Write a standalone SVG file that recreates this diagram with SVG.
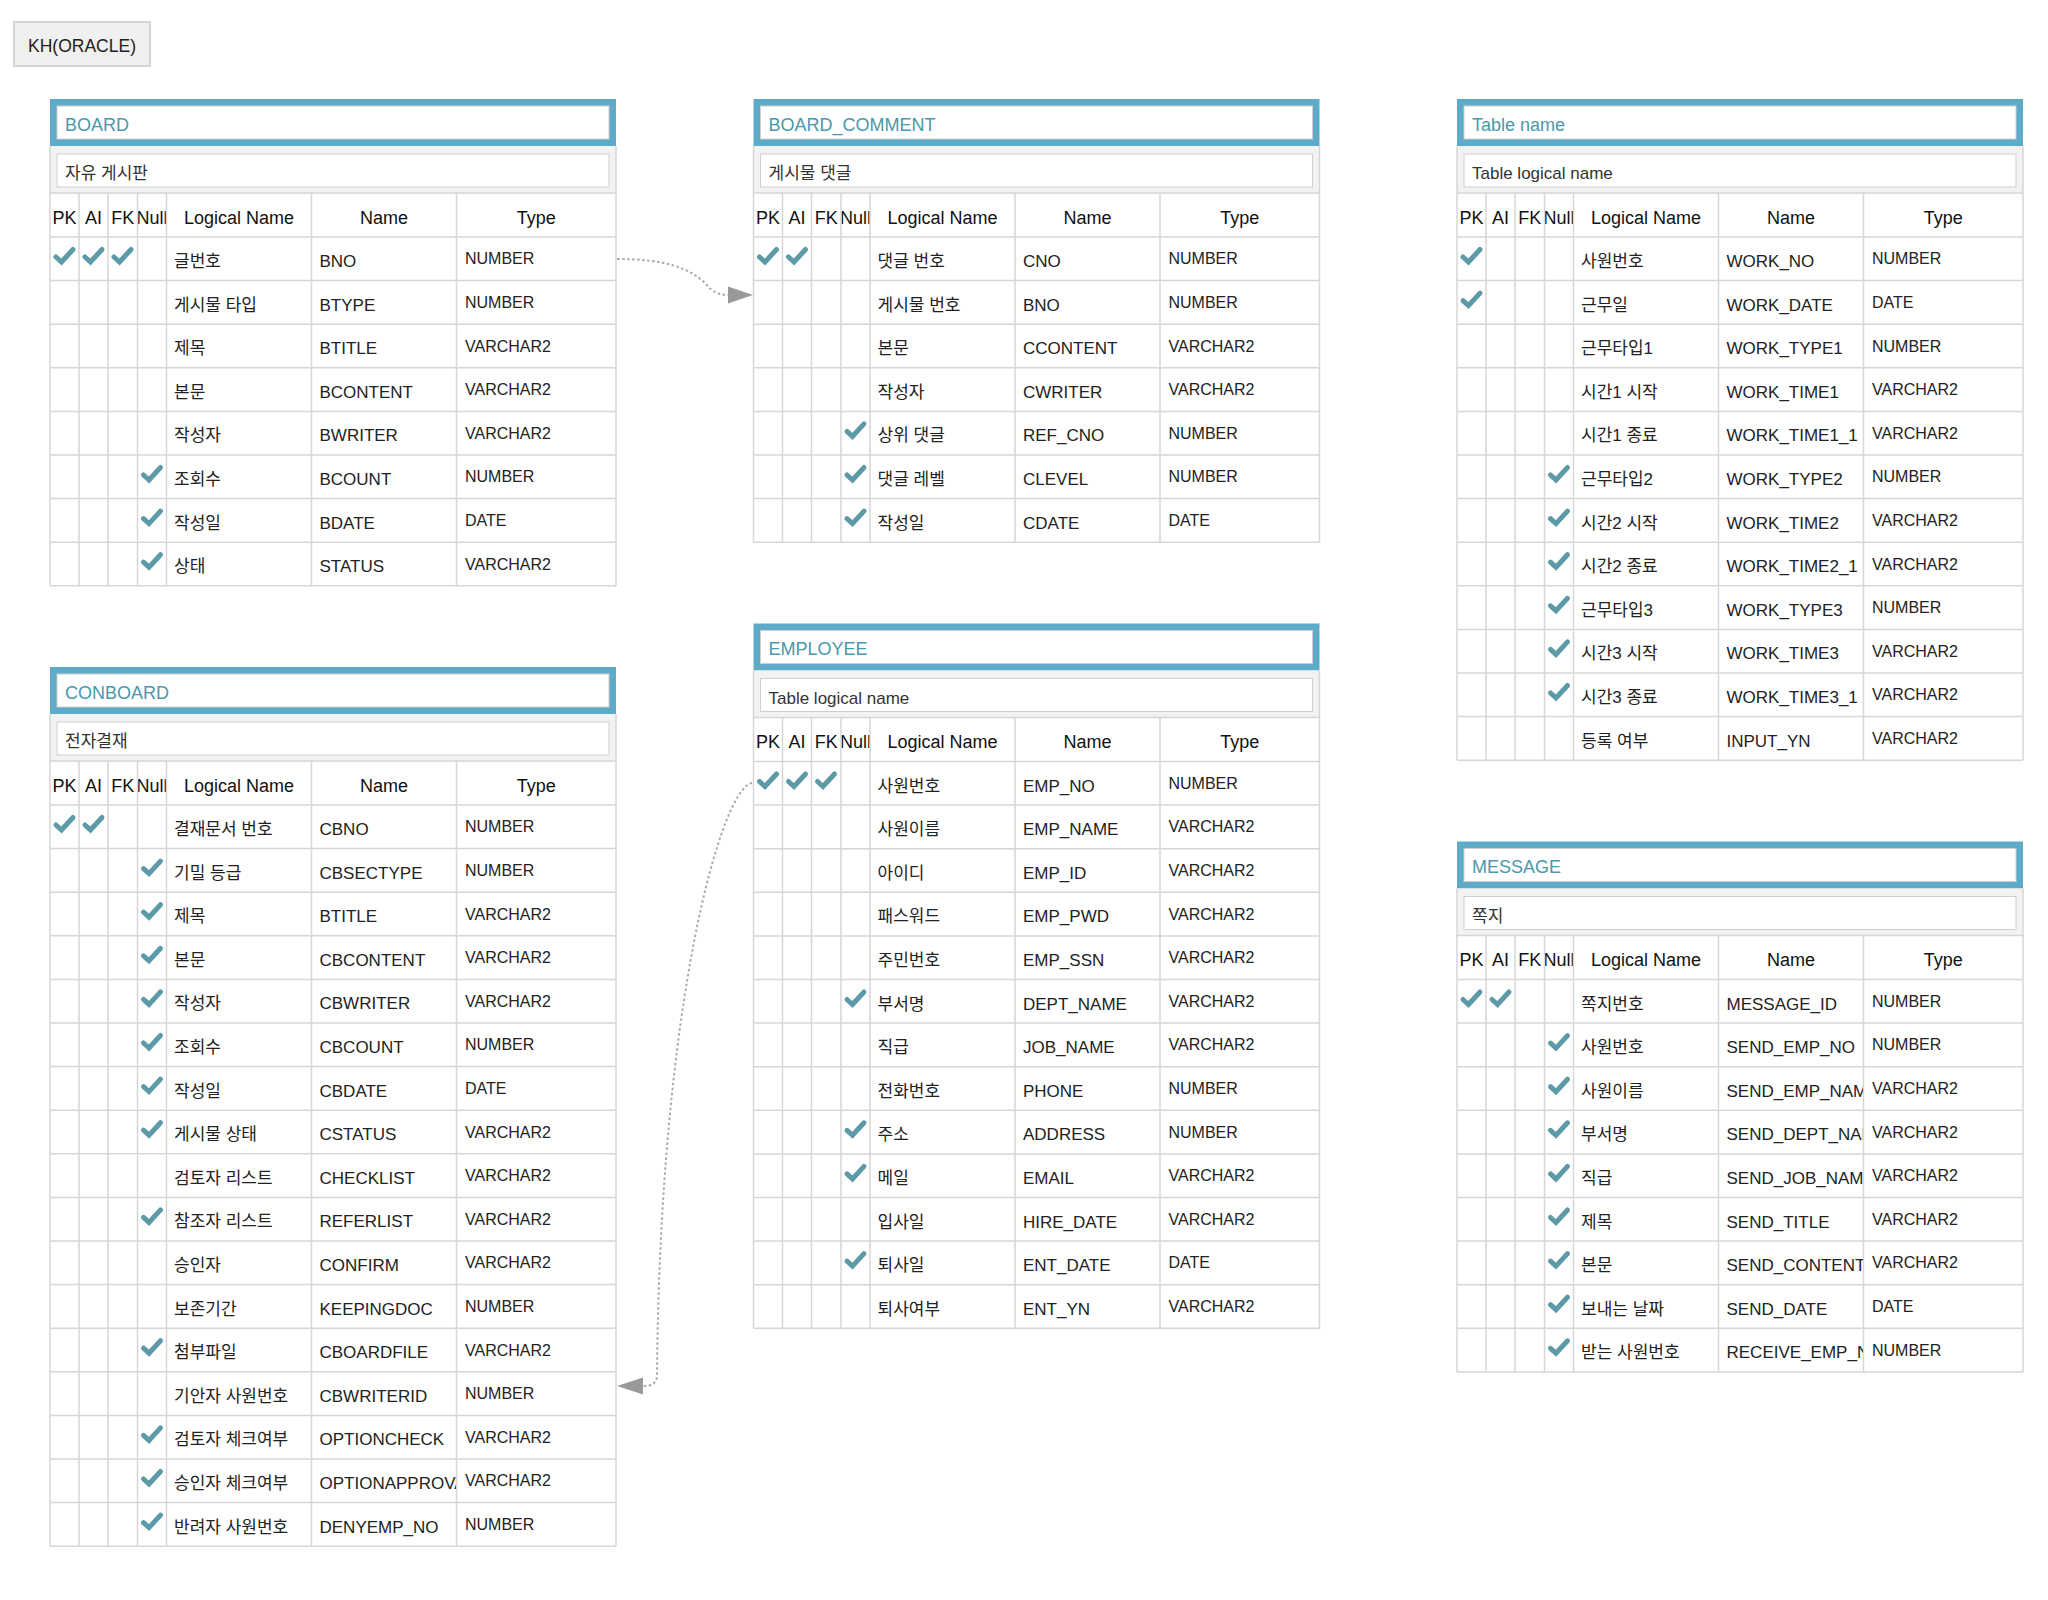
<svg xmlns="http://www.w3.org/2000/svg" xmlns:xlink="http://www.w3.org/1999/xlink" width="2048" height="1600" viewBox="0 0 2048 1600">
<style>
text{font-family:'Liberation Sans','Noto Sans CJK KR',sans-serif}
.ttl{font-size:18px;fill:#4a98ad}
.lg{font-size:17px;fill:#333}
.hd{font-size:18px;fill:#111;text-anchor:middle}
.ln{font-size:17px;fill:#222}
.nm{font-size:17px;fill:#222}
.tp{font-size:16px;fill:#222}
.grid{fill:none;stroke:#d6d6d6;stroke-width:1.5}
.blue{fill:#5eabc9}
.inner{fill:#fff;stroke:#cfcfcf;stroke-width:1}
.gray{fill:#f2f2f2}
.conn{fill:none;stroke:#aaa;stroke-width:2;stroke-dasharray:2.5 2.5}
.arr{fill:#999}
</style>
<defs>
<g id="ck"><polyline points="2.5,10.5 8,15.5 19.5,3" fill="none" stroke="#5c9aa7" stroke-width="5" stroke-linecap="round"/></g>
<clipPath id="cn" clipPathUnits="userSpaceOnUse"><rect x="262" y="0" width="144" height="900"/></clipPath>
<g id="head">
<rect class="blue" x="0" y="0" width="566" height="47"/>
<rect class="inner" x="7" y="7" width="552" height="33"/>
<rect class="gray" x="0" y="47" width="566" height="47"/>
<rect class="inner" x="7" y="55" width="552" height="33"/>
<text class="hd" x="14.5" y="124.5">PK</text>
<text class="hd" x="43.5" y="124.5">AI</text>
<text class="hd" x="72.75" y="124.5">FK</text>
<text class="hd" x="102" y="124.5">Null</text>
<text class="hd" x="189" y="124.5">Logical Name</text>
<text class="hd" x="334" y="124.5">Name</text>
<text class="hd" x="486.25" y="124.5">Type</text>
</g>
</defs>
<rect width="2048" height="1600" fill="#fff"/>

<g id="kh-oracle">
<rect x="14" y="22" width="136" height="44" fill="#f0f0f0" stroke="#d4d4d4" stroke-width="2"/>
<text x="82" y="52" font-size="17.5" fill="#222" text-anchor="middle">KH(ORACLE)</text>
</g>

<g id="board" transform="translate(50,99)">
<use href="#head"/>
<text class="ttl" x="15" y="31.5">BOARD</text>
<text class="lg" x="15" y="80">자유 게시판</text>
<path class="grid" d="M0,47V486.8M29,94V486.8M58,94V486.8M87.5,94V486.8M116.5,94V486.8M261.5,94V486.8M406.5,94V486.8M566,47V486.8M0,94H566M0,138H566M0,181.6H566M0,225.2H566M0,268.8H566M0,312.4H566M0,356H566M0,399.6H566M0,443.2H566M0,486.8H566"/>
<use href="#ck" x="3.5" y="147.5"/><use href="#ck" x="32.5" y="147.5"/><use href="#ck" x="61.5" y="147.5"/>
<use href="#ck" x="91" y="365.5"/><use href="#ck" x="91" y="409.1"/><use href="#ck" x="91" y="452.7"/>
<g class="ln">
<text x="124" y="168">글번호</text><text x="124" y="211.6">게시물 타입</text><text x="124" y="255.2">제목</text><text x="124" y="298.8">본문</text><text x="124" y="342.4">작성자</text><text x="124" y="386">조회수</text><text x="124" y="429.6">작성일</text><text x="124" y="473.2">상태</text>
</g>
<g class="nm">
<text x="269.5" y="168">BNO</text><text x="269.5" y="211.6">BTYPE</text><text x="269.5" y="255.2">BTITLE</text><text x="269.5" y="298.8">BCONTENT</text><text x="269.5" y="342.4">BWRITER</text><text x="269.5" y="386">BCOUNT</text><text x="269.5" y="429.6">BDATE</text><text x="269.5" y="473.2">STATUS</text>
</g>
<g class="tp">
<text x="415" y="165.3">NUMBER</text><text x="415" y="208.9">NUMBER</text><text x="415" y="252.5">VARCHAR2</text><text x="415" y="296.1">VARCHAR2</text><text x="415" y="339.7">VARCHAR2</text><text x="415" y="383.3">NUMBER</text><text x="415" y="426.9">DATE</text><text x="415" y="470.5">VARCHAR2</text>
</g>
</g>

<g id="board-comment" transform="translate(753.5,99)">
<use href="#head"/>
<text class="ttl" x="15" y="31.5">BOARD_COMMENT</text>
<text class="lg" x="15" y="80">게시물 댓글</text>
<path class="grid" d="M0,47V443.2M29,94V443.2M58,94V443.2M87.5,94V443.2M116.5,94V443.2M261.5,94V443.2M406.5,94V443.2M566,47V443.2M0,94H566M0,138H566M0,181.6H566M0,225.2H566M0,268.8H566M0,312.4H566M0,356H566M0,399.6H566M0,443.2H566"/>
<use href="#ck" x="3.5" y="147.5"/><use href="#ck" x="32.5" y="147.5"/>
<use href="#ck" x="91" y="321.9"/><use href="#ck" x="91" y="365.5"/><use href="#ck" x="91" y="409.1"/>
<g class="ln">
<text x="124" y="168">댓글 번호</text><text x="124" y="211.6">게시물 번호</text><text x="124" y="255.2">본문</text><text x="124" y="298.8">작성자</text><text x="124" y="342.4">상위 댓글</text><text x="124" y="386">댓글 레벨</text><text x="124" y="429.6">작성일</text>
</g>
<g class="nm">
<text x="269.5" y="168">CNO</text><text x="269.5" y="211.6">BNO</text><text x="269.5" y="255.2">CCONTENT</text><text x="269.5" y="298.8">CWRITER</text><text x="269.5" y="342.4">REF_CNO</text><text x="269.5" y="386">CLEVEL</text><text x="269.5" y="429.6">CDATE</text>
</g>
<g class="tp">
<text x="415" y="165.3">NUMBER</text><text x="415" y="208.9">NUMBER</text><text x="415" y="252.5">VARCHAR2</text><text x="415" y="296.1">VARCHAR2</text><text x="415" y="339.7">NUMBER</text><text x="415" y="383.3">NUMBER</text><text x="415" y="426.9">DATE</text>
</g>
</g>

<g id="table-name" transform="translate(1457,99)">
<use href="#head"/>
<text class="ttl" x="15" y="31.5">Table name</text>
<text class="lg" x="15" y="80">Table logical name</text>
<path class="grid" d="M0,47V661.2M29,94V661.2M58,94V661.2M87.5,94V661.2M116.5,94V661.2M261.5,94V661.2M406.5,94V661.2M566,47V661.2M0,94H566M0,138H566M0,181.6H566M0,225.2H566M0,268.8H566M0,312.4H566M0,356H566M0,399.6H566M0,443.2H566M0,486.8H566M0,530.4H566M0,574H566M0,617.6H566M0,661.2H566"/>
<use href="#ck" x="3.5" y="147.5"/><use href="#ck" x="3.5" y="191.1"/>
<use href="#ck" x="91" y="365.5"/><use href="#ck" x="91" y="409.1"/><use href="#ck" x="91" y="452.7"/><use href="#ck" x="91" y="496.3"/><use href="#ck" x="91" y="539.9"/><use href="#ck" x="91" y="583.5"/>
<g class="ln">
<text x="124" y="168">사원번호</text><text x="124" y="211.6">근무일</text><text x="124" y="255.2">근무타입1</text><text x="124" y="298.8">시간1 시작</text><text x="124" y="342.4">시간1 종료</text><text x="124" y="386">근무타입2</text><text x="124" y="429.6">시간2 시작</text><text x="124" y="473.2">시간2 종료</text><text x="124" y="516.8">근무타입3</text><text x="124" y="560.4">시간3 시작</text><text x="124" y="604">시간3 종료</text><text x="124" y="647.6">등록 여부</text>
</g>
<g class="nm">
<text x="269.5" y="168">WORK_NO</text><text x="269.5" y="211.6">WORK_DATE</text><text x="269.5" y="255.2">WORK_TYPE1</text><text x="269.5" y="298.8">WORK_TIME1</text><text x="269.5" y="342.4">WORK_TIME1_1</text><text x="269.5" y="386">WORK_TYPE2</text><text x="269.5" y="429.6">WORK_TIME2</text><text x="269.5" y="473.2">WORK_TIME2_1</text><text x="269.5" y="516.8">WORK_TYPE3</text><text x="269.5" y="560.4">WORK_TIME3</text><text x="269.5" y="604">WORK_TIME3_1</text><text x="269.5" y="647.6">INPUT_YN</text>
</g>
<g class="tp">
<text x="415" y="165.3">NUMBER</text><text x="415" y="208.9">DATE</text><text x="415" y="252.5">NUMBER</text><text x="415" y="296.1">VARCHAR2</text><text x="415" y="339.7">VARCHAR2</text><text x="415" y="383.3">NUMBER</text><text x="415" y="426.9">VARCHAR2</text><text x="415" y="470.5">VARCHAR2</text><text x="415" y="514.1">NUMBER</text><text x="415" y="557.7">VARCHAR2</text><text x="415" y="601.3">VARCHAR2</text><text x="415" y="644.9">VARCHAR2</text>
</g>
</g>

<g id="conboard" transform="translate(50,667)">
<use href="#head"/>
<text class="ttl" x="15" y="31.5">CONBOARD</text>
<text class="lg" x="15" y="80">전자결재</text>
<path class="grid" d="M0,47V879.2M29,94V879.2M58,94V879.2M87.5,94V879.2M116.5,94V879.2M261.5,94V879.2M406.5,94V879.2M566,47V879.2M0,94H566M0,138H566M0,181.6H566M0,225.2H566M0,268.8H566M0,312.4H566M0,356H566M0,399.6H566M0,443.2H566M0,486.8H566M0,530.4H566M0,574H566M0,617.6H566M0,661.2H566M0,704.8H566M0,748.4H566M0,792H566M0,835.6H566M0,879.2H566"/>
<use href="#ck" x="3.5" y="147.5"/><use href="#ck" x="32.5" y="147.5"/>
<use href="#ck" x="91" y="191.1"/><use href="#ck" x="91" y="234.7"/><use href="#ck" x="91" y="278.3"/><use href="#ck" x="91" y="321.9"/><use href="#ck" x="91" y="365.5"/><use href="#ck" x="91" y="409.1"/><use href="#ck" x="91" y="452.7"/><use href="#ck" x="91" y="539.9"/><use href="#ck" x="91" y="670.7"/><use href="#ck" x="91" y="757.9"/><use href="#ck" x="91" y="801.5"/><use href="#ck" x="91" y="845.1"/>
<g class="ln">
<text x="124" y="168">결재문서 번호</text><text x="124" y="211.6">기밀 등급</text><text x="124" y="255.2">제목</text><text x="124" y="298.8">본문</text><text x="124" y="342.4">작성자</text><text x="124" y="386">조회수</text><text x="124" y="429.6">작성일</text><text x="124" y="473.2">게시물 상태</text><text x="124" y="516.8">검토자 리스트</text><text x="124" y="560.4">참조자 리스트</text><text x="124" y="604">승인자</text><text x="124" y="647.6">보존기간</text><text x="124" y="691.2">첨부파일</text><text x="124" y="734.8">기안자 사원번호</text><text x="124" y="778.4">검토자 체크여부</text><text x="124" y="822">승인자 체크여부</text><text x="124" y="865.6">반려자 사원번호</text>
</g>
<g class="nm" clip-path="url(#cn)">
<text x="269.5" y="168">CBNO</text><text x="269.5" y="211.6">CBSECTYPE</text><text x="269.5" y="255.2">BTITLE</text><text x="269.5" y="298.8">CBCONTENT</text><text x="269.5" y="342.4">CBWRITER</text><text x="269.5" y="386">CBCOUNT</text><text x="269.5" y="429.6">CBDATE</text><text x="269.5" y="473.2">CSTATUS</text><text x="269.5" y="516.8">CHECKLIST</text><text x="269.5" y="560.4">REFERLIST</text><text x="269.5" y="604">CONFIRM</text><text x="269.5" y="647.6">KEEPINGDOC</text><text x="269.5" y="691.2">CBOARDFILE</text><text x="269.5" y="734.8">CBWRITERID</text><text x="269.5" y="778.4">OPTIONCHECK</text><text x="269.5" y="822">OPTIONAPPROVA</text><text x="269.5" y="865.6">DENYEMP_NO</text>
</g>
<g class="tp">
<text x="415" y="165.3">NUMBER</text><text x="415" y="208.9">NUMBER</text><text x="415" y="252.5">VARCHAR2</text><text x="415" y="296.1">VARCHAR2</text><text x="415" y="339.7">VARCHAR2</text><text x="415" y="383.3">NUMBER</text><text x="415" y="426.9">DATE</text><text x="415" y="470.5">VARCHAR2</text><text x="415" y="514.1">VARCHAR2</text><text x="415" y="557.7">VARCHAR2</text><text x="415" y="601.3">VARCHAR2</text><text x="415" y="644.9">NUMBER</text><text x="415" y="688.5">VARCHAR2</text><text x="415" y="732.1">NUMBER</text><text x="415" y="775.7">VARCHAR2</text><text x="415" y="819.3">VARCHAR2</text><text x="415" y="862.9">NUMBER</text>
</g>
</g>

<g id="employee" transform="translate(753.5,623.5)">
<use href="#head"/>
<text class="ttl" x="15" y="31.5">EMPLOYEE</text>
<text class="lg" x="15" y="80">Table logical name</text>
<path class="grid" d="M0,47V704.8M29,94V704.8M58,94V704.8M87.5,94V704.8M116.5,94V704.8M261.5,94V704.8M406.5,94V704.8M566,47V704.8M0,94H566M0,138H566M0,181.6H566M0,225.2H566M0,268.8H566M0,312.4H566M0,356H566M0,399.6H566M0,443.2H566M0,486.8H566M0,530.4H566M0,574H566M0,617.6H566M0,661.2H566M0,704.8H566"/>
<use href="#ck" x="3.5" y="147.5"/><use href="#ck" x="32.5" y="147.5"/><use href="#ck" x="61.5" y="147.5"/>
<use href="#ck" x="91" y="365.5"/><use href="#ck" x="91" y="496.3"/><use href="#ck" x="91" y="539.9"/><use href="#ck" x="91" y="627.1"/>
<g class="ln">
<text x="124" y="168">사원번호</text><text x="124" y="211.6">사원이름</text><text x="124" y="255.2">아이디</text><text x="124" y="298.8">패스워드</text><text x="124" y="342.4">주민번호</text><text x="124" y="386">부서명</text><text x="124" y="429.6">직급</text><text x="124" y="473.2">전화번호</text><text x="124" y="516.8">주소</text><text x="124" y="560.4">메일</text><text x="124" y="604">입사일</text><text x="124" y="647.6">퇴사일</text><text x="124" y="691.2">퇴사여부</text>
</g>
<g class="nm">
<text x="269.5" y="168">EMP_NO</text><text x="269.5" y="211.6">EMP_NAME</text><text x="269.5" y="255.2">EMP_ID</text><text x="269.5" y="298.8">EMP_PWD</text><text x="269.5" y="342.4">EMP_SSN</text><text x="269.5" y="386">DEPT_NAME</text><text x="269.5" y="429.6">JOB_NAME</text><text x="269.5" y="473.2">PHONE</text><text x="269.5" y="516.8">ADDRESS</text><text x="269.5" y="560.4">EMAIL</text><text x="269.5" y="604">HIRE_DATE</text><text x="269.5" y="647.6">ENT_DATE</text><text x="269.5" y="691.2">ENT_YN</text>
</g>
<g class="tp">
<text x="415" y="165.3">NUMBER</text><text x="415" y="208.9">VARCHAR2</text><text x="415" y="252.5">VARCHAR2</text><text x="415" y="296.1">VARCHAR2</text><text x="415" y="339.7">VARCHAR2</text><text x="415" y="383.3">VARCHAR2</text><text x="415" y="426.9">VARCHAR2</text><text x="415" y="470.5">NUMBER</text><text x="415" y="514.1">NUMBER</text><text x="415" y="557.7">VARCHAR2</text><text x="415" y="601.3">VARCHAR2</text><text x="415" y="644.9">DATE</text><text x="415" y="688.5">VARCHAR2</text>
</g>
</g>

<g id="message" transform="translate(1457,841.5)">
<use href="#head"/>
<text class="ttl" x="15" y="31.5">MESSAGE</text>
<text class="lg" x="15" y="80">쪽지</text>
<path class="grid" d="M0,47V530.4M29,94V530.4M58,94V530.4M87.5,94V530.4M116.5,94V530.4M261.5,94V530.4M406.5,94V530.4M566,47V530.4M0,94H566M0,138H566M0,181.6H566M0,225.2H566M0,268.8H566M0,312.4H566M0,356H566M0,399.6H566M0,443.2H566M0,486.8H566M0,530.4H566"/>
<use href="#ck" x="3.5" y="147.5"/><use href="#ck" x="32.5" y="147.5"/>
<use href="#ck" x="91" y="191.1"/><use href="#ck" x="91" y="234.7"/><use href="#ck" x="91" y="278.3"/><use href="#ck" x="91" y="321.9"/><use href="#ck" x="91" y="365.5"/><use href="#ck" x="91" y="409.1"/><use href="#ck" x="91" y="452.7"/><use href="#ck" x="91" y="496.3"/>
<g class="ln">
<text x="124" y="168">쪽지번호</text><text x="124" y="211.6">사원번호</text><text x="124" y="255.2">사원이름</text><text x="124" y="298.8">부서명</text><text x="124" y="342.4">직급</text><text x="124" y="386">제목</text><text x="124" y="429.6">본문</text><text x="124" y="473.2">보내는 날짜</text><text x="124" y="516.8">받는 사원번호</text>
</g>
<g class="nm" clip-path="url(#cn)">
<text x="269.5" y="168">MESSAGE_ID</text><text x="269.5" y="211.6">SEND_EMP_NO</text><text x="269.5" y="255.2">SEND_EMP_NAM</text><text x="269.5" y="298.8">SEND_DEPT_NAM</text><text x="269.5" y="342.4">SEND_JOB_NAM</text><text x="269.5" y="386">SEND_TITLE</text><text x="269.5" y="429.6">SEND_CONTENT</text><text x="269.5" y="473.2">SEND_DATE</text><text x="269.5" y="516.8">RECEIVE_EMP_N</text>
</g>
<g class="tp">
<text x="415" y="165.3">NUMBER</text><text x="415" y="208.9">NUMBER</text><text x="415" y="252.5">VARCHAR2</text><text x="415" y="296.1">VARCHAR2</text><text x="415" y="339.7">VARCHAR2</text><text x="415" y="383.3">VARCHAR2</text><text x="415" y="426.9">VARCHAR2</text><text x="415" y="470.5">DATE</text><text x="415" y="514.1">NUMBER</text>
</g>
</g>

<g id="connectors">
<path class="conn" d="M617,259 C665,259 690,268 706,284 Q714,295 728,295"/>
<polygon class="arr" points="728,286.5 753,295 728,303.5"/>
<path class="conn" d="M752,783 C722,787 660,1000 657,1376 Q657,1386 643,1386"/>
<polygon class="arr" points="643,1377.5 617,1386 643,1394.5"/>
</g>
</svg>
